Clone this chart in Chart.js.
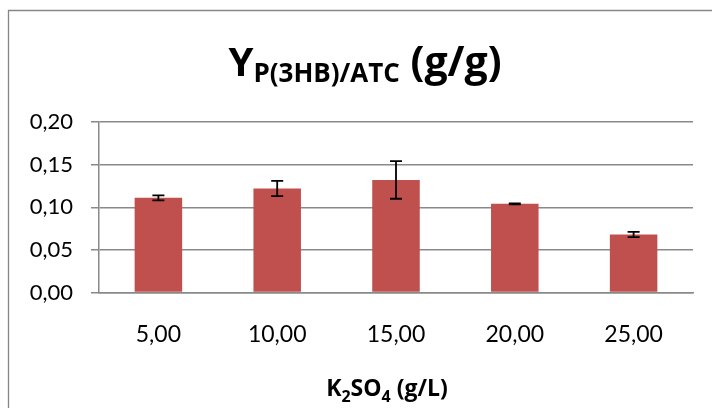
<!DOCTYPE html>
<html>
<head>
<meta charset="utf-8">
<script src="https://cdn.jsdelivr.net/npm/chart.js@4/dist/chart.umd.min.js"></script>
<style>
  html, body { margin: 0; padding: 0; background: #fff; }
  #wrap { width: 712px; height: 408px; position: relative; }
</style>
</head>
<body>
<div id="wrap"><canvas id="c" width="712" height="408"></canvas></div>
<script>
// ===== DATA =====
const categories = ["5,00", "10,00", "15,00", "20,00", "25,00"];
const yieldValues = [0.111, 0.122, 0.132, 0.104, 0.068];
const yieldErrors = [0.003, 0.009, 0.022, 0.0005, 0.003];
const yTicks = [0, 0.05, 0.10, 0.15, 0.20];

const FONT = "Lato, 'Open Sans', sans-serif";
const BOLD = "'Open Sans', Lato, sans-serif";
const GRID = "#898989";

// frame around the chart (Excel chart area border, cut off at right/bottom)
const framePlugin = {
  id: "frame",
  beforeDraw(chart){
    const ctx = chart.ctx;
    ctx.save();
    ctx.strokeStyle = "#868686";
    ctx.lineWidth = 1.3;
    ctx.beginPath();
    ctx.moveTo(8.5, 420);
    ctx.lineTo(8.5, 10.5);
    ctx.lineTo(720, 10.5);
    ctx.stroke();
    ctx.restore();
  }
};

// error bars, positioned through the chart's own scales
const errorBarPlugin = {
  id: "errorBars",
  afterDatasetsDraw(chart){
    const ctx = chart.ctx;
    const y = chart.scales.y;
    const meta = chart.getDatasetMeta(0);
    ctx.save();
    ctx.strokeStyle = "#000";
    ctx.lineWidth = 1.8;
    meta.data.forEach((bar, i) => {
      const v = yieldValues[i], e = yieldErrors[i];
      const top = y.getPixelForValue(v + e);
      const bot = y.getPixelForValue(v - e);
      const cap = 6;
      ctx.beginPath();
      ctx.moveTo(bar.x, top); ctx.lineTo(bar.x, bot);
      ctx.moveTo(bar.x - cap, top); ctx.lineTo(bar.x + cap, top);
      ctx.moveTo(bar.x - cap, bot); ctx.lineTo(bar.x + cap, bot);
      ctx.stroke();
    });
    ctx.restore();
  }
};

// title and axis title with subscripts
function drawRuns(ctx, runs, cx, baseline){
  let total = 0;
  runs.forEach(r => { ctx.font = r.font; r.w = ctx.measureText(r.text).width; total += r.w; });
  let x = cx - total / 2;
  runs.forEach(r => {
    ctx.font = r.font;
    ctx.fillText(r.text, x, baseline + (r.dy || 0));
    x += r.w;
  });
}

const titlesPlugin = {
  id: "titles",
  afterDraw(chart){
    const ctx = chart.ctx;
    ctx.save();
    ctx.fillStyle = "#000";
    ctx.textBaseline = "alphabetic";
    ctx.textAlign = "left";
    drawRuns(ctx, [
      {text: "Y", font: `bold 40px ${BOLD}`},
      {text: "P(3HB)/ATC", font: `bold 26px ${BOLD}`, dy: 6},
      {text: " (g/g)", font: `bold 41px ${BOLD}`}
    ], 365, 75.5);
    drawRuns(ctx, [
      {text: "K", font: `bold 23px ${BOLD}`},
      {text: "2", font: `bold 16px ${BOLD}`, dy: 6},
      {text: "SO", font: `bold 23px ${BOLD}`},
      {text: "4", font: `bold 16px ${BOLD}`, dy: 6},
      {text: " (g/L)", font: `bold 23px ${BOLD}`}
    ], 387, 396);
    ctx.restore();
  }
};

new Chart(document.getElementById("c"), {
  type: "bar",
  data: {
    labels: categories,
    datasets: [{
      data: yieldValues,
      backgroundColor: "#C0504D",
      borderWidth: 0,
      categoryPercentage: 0.4,
      barPercentage: 1
    }]
  },
  options: {
    responsive: false,
    animation: false,
    events: [],
    layout: { padding: { left: 8, top: 122, right: 19, bottom: 0 } },
    plugins: { legend: { display: false }, tooltip: { enabled: false }, title: { display: false } },
    scales: {
      x: {
        grid: { display: false },
        border: { display: true, color: GRID, width: 1.5 },
        ticks: { color: "#000", font: { family: FONT, size: 23 }, padding: 20, maxRotation: 0 },
        afterFit: (s) => { s.height = 115.5; }
      },
      y: {
        min: 0, max: 0.2,
        afterBuildTicks: (s) => { s.ticks = yTicks.map(v => ({value: v})); },
        grid: { color: GRID, lineWidth: 1.5, tickLength: 8, drawTicks: true },
        border: { display: true, color: GRID, width: 1.5 },
        ticks: {
          color: "#000", font: { family: FONT, size: 22 }, padding: 18,
          callback: (v) => Number(v).toFixed(2).replace(".", ",")
        },
        afterFit: (s) => { s.width = 91; }
      }
    }
  },
  plugins: [framePlugin, errorBarPlugin, titlesPlugin]
});
</script>
</body>
</html>
